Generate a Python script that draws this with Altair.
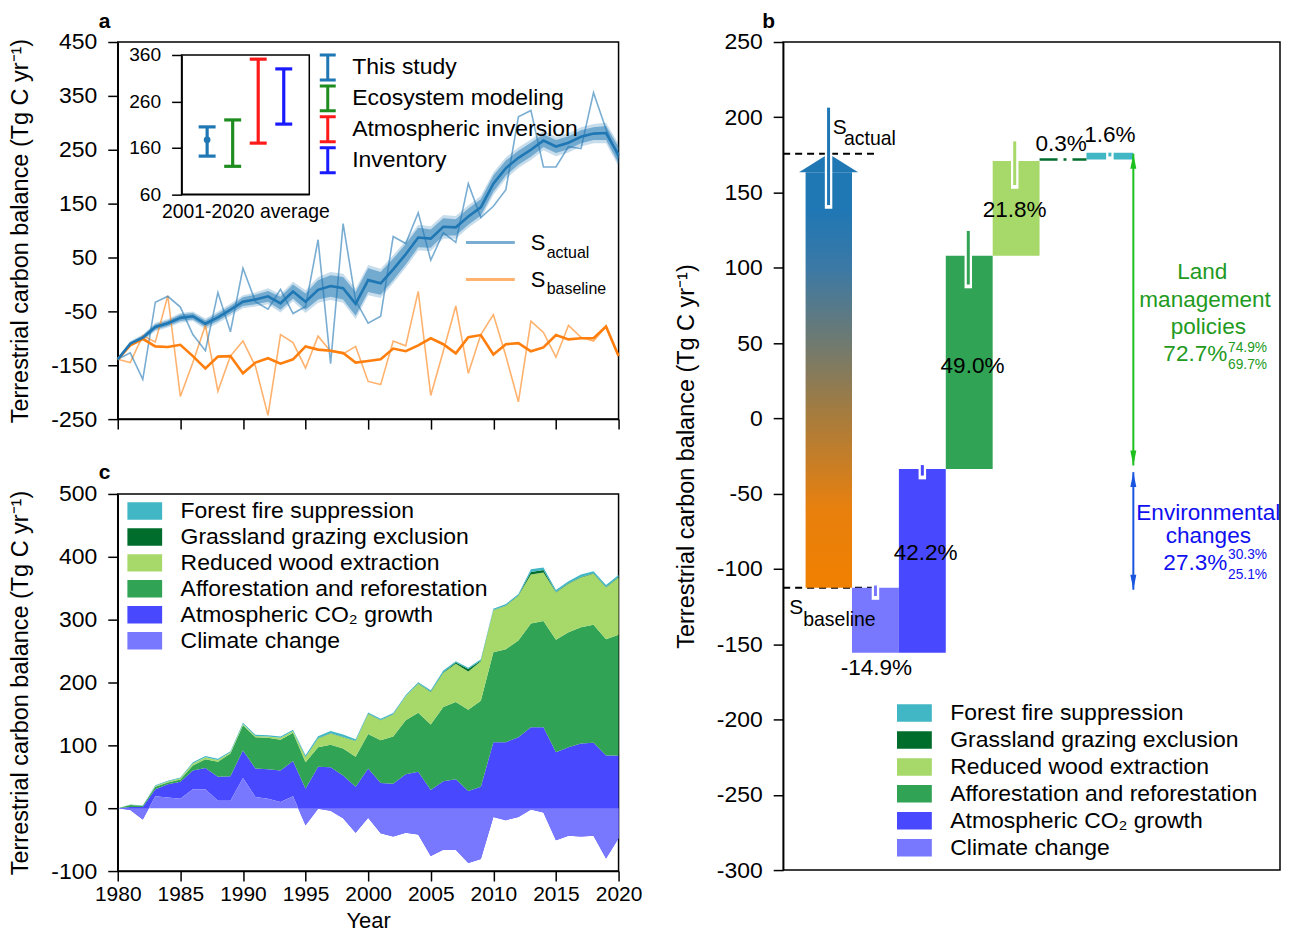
import altair as alt
import pandas as pd

FONT = "Liberation Sans"
BLUE = "#1f77b4"
ORANGE = "#ff7f0e"
YT = "Terrestrial carbon balance (Tg C yr⁻¹)"
MINUS = "replace(datum.label, '\u2212', '-')"

# ---------------- data: panel a ----------------
years = list(range(1980, 2021))
sa_smooth = [-139, -110, -99, -79, -72, -62, -59, -73, -61, -47,
             -32, -28, -22, -35, -13, -32, -10, -3, -7, -36,
             8, 2, 28, 56, 87, 85, 107, 106, 126, 143,
             187, 216, 235, 250, 267, 256, 263, 274, 280, 281, 240]
sa_raw = [-139, -127, -176, -33, -22, -42, -93, -123, -15, -88,
          30, -32, -46, -9, -54, -41, 83, -147, 113, -30,
          -72, -59, 89, 76, 133, 45, 96, 78, 187, 124,
          145, 176, 311, 323, 218, 218, 256, 252, 356, 288, 235]
sa_inner = [2, 3, 4, 5, 5, 6, 6, 6, 7, 7, 8, 9, 10, 12, 13, 15, 18, 20, 21, 22,
            22, 21, 20, 19, 18, 17, 16, 15, 15, 15, 15, 14, 13, 13, 12, 12, 12, 12, 12, 13, 15]
sa_outer = [3, 5, 6, 8, 8, 9, 9, 10, 11, 11, 12, 13, 15, 17, 18, 21, 24, 26, 27, 28,
            28, 27, 26, 25, 24, 23, 22, 21, 21, 21, 21, 20, 19, 19, 18, 18, 18, 18, 18, 19, 21]
sb_smooth = [-139, -113, -101, -115, -116, -112, -133, -156, -134, -133,
             -165, -145, -137, -147, -139, -115, -121, -123, -127, -145,
             -142, -139, -119, -124, -113, -100, -111, -128, -98, -94,
             -130, -111, -109, -124, -117, -94, -102, -100, -100, -78, -133]
sb_raw = [-139, -145, -95, -107, -21, -208, -145, -76, -198, -133,
          -105, -152, -243, -93, -108, -155, -96, -124, -129, -115,
          -180, -186, -105, -114, -13, -206, -124, -40, -165, -93,
          -56, -133, -218, -68, -89, -135, -76, -98, -105, -78, -133]

methods = ["This study", "Ecosystem modeling", "Atmospheric inversion", "Inventory"]
method_colors = ["#1f77b4", "#1e8c1e", "#ff1a1a", "#1a1aff"]
method_pos = [1, 2, 3, 4]
method_low = [142, 120, 170, 211]
method_high = [205, 220, 351, 330]
this_study_mean = [177]

# ---------------- data: panel c ----------------
components = ["Forest fire suppression", "Grassland grazing exclusion", "Reduced wood extraction",
              "Afforestation and reforestation", "Atmospheric CO₂ growth", "Climate change"]
comp_colors = ["#41b6c4", "#006d2c", "#a6d96a", "#31a354", "#4848ff", "#7878ff"]
climate = [0, -3, -18, 19, 17, 15, 30, 30, 12, 12, 48, 18, 15, 10, 19, -27, -1, -4, -16, -39,
           -15, -40, -45, -39, -42, -76, -66, -66, -87, -81, -14, -19, -14, -2, -7, -51, -44, -45, -44, -80, -48]
co2 = [0, 5, 20, 11, 21, 27, 30, 34, 38, 39, 44, 45, 47, 50, 56, 58, 67, 69, 68, 73,
       78, 80, 84, 93, 100, 105, 109, 112, 114.5, 115, 119, 124, 127, 131, 136, 140, 141, 148, 148, 164, 132]
aff = [0, 3, 2, 4, 3, 3.5, 8, 14, 24, 36, 40, 50, 50, 49, 45, 42, 31, 36, 43, 48,
       55, 68, 75, 86, 94, 104, 118, 123, 129, 137, 143, 148, 154, 165, 169, 179, 183, 185, 188, 185, 192]
wood = [0, 0.5, 0, 1.5, 1.5, 2, 3, 3, 2.5, 2, 2, 2, 2, 3, 3, 8, 14, 18, 18, 25,
        32, 32, 35, 38, 46, 52, 54, 61, 61, 63, 67, 69, 71, 78, 77, 75, 77, 79, 81, 82, 91]
grass = [0, 0, 0, 0, 0, 0, 0, 0, 0, 0, 0, 0, 0, 0, 0, 0.3, 0.3, 0.3, 0.3, 0.3,
         0.3, 0.3, 0.3, 0.3, 0.5, 0.5, 1, 2, 4, 1, 0.5, 0.5, 1, 4, 4, 1, 1, 1, 1, 1, 1]
fire = [0, 0.3, 0.5, 1, 1, 1.5, 2, 2, 2, 1.5, 2, 2, 2, 2, 2, 3, 3, 3.5, 4, 2.5,
        2, 2, 2, 2, 2, 2, 3, 2, 2, 2, 2, 2.5, 2, 4, 4, 3, 3, 4, 3, 3, 3]

# ---------------- data: panel b ----------------
b_baseline = -112.5
b_actual = 175.8
b_names = ["Climate change", "Atmospheric CO₂ growth", "Afforestation and reforestation",
           "Reduced wood extraction", "Grassland grazing exclusion", "Forest fire suppression"]
b_contrib = [-43.1, 122.0, 141.6, 63.0, 0.9, 4.6]
b_pct = ["-14.9%", "42.2%", "49.0%", "21.8%", "0.3%", "1.6%"]
b_pct_x = [1.02, 2.07, 3.07, 3.97, 4.96, 6.0]
b_pct_y = [-166, -89.4, 34.7, 138.4, 182.2, 188]
b_err_x = [1.0, 2.0, 2.98, 3.97, 6.0]
b_err_lo = [-118, -38, 88.9, 155, 174]
b_err_hi = [-111, -31, 124.5, 184, 176.5]
b_err_comp = ["Climate change", "Atmospheric CO₂ growth", "Afforestation and reforestation",
              "Reduced wood extraction", "Forest fire suppression"]
s_err = [141.7, 206.4]
land_pct = ["72.7%", "74.9%", "69.7%"]
env_pct = ["27.3%", "30.3%", "25.1%"]

RECT = "M-1,-0.5H1V0.5H-1Z"
IBAR = "M-0.64,-1H0.64M0,-1V1M-0.64,1H0.64"
UP = "M0,-1L0.4,1L-0.4,1Z"
DOWN = "M0,1L0.4,-1L-0.4,-1Z"

# ======================= PANEL A =======================
WA, HA = 502, 378
da = pd.DataFrame({"year": years, "sa": sa_smooth, "sa_raw": sa_raw, "sb": sb_smooth, "sb_raw": sb_raw,
                   "inner": sa_inner, "outer": sa_outer})
da["in_lo"] = da.sa - da.inner
da["in_hi"] = da.sa + da.inner
da["out_lo"] = da.sa - da.outer
da["out_hi"] = da.sa + da.outer

xa_scale = alt.Scale(domain=[1980, 2020], nice=False, zero=False)
ya_scale = alt.Scale(domain=[-250, 450], nice=False, zero=False)


def XA(f):
    return alt.X(f + ":Q", scale=xa_scale,
                 axis=alt.Axis(values=list(range(1980, 2021, 5)), labels=False, title=None))


def YA(f):
    return alt.Y(f + ":Q", scale=ya_scale,
                 axis=alt.Axis(values=list(range(-250, 451, 100)), title=YT, labelExpr=MINUS))


ca = alt.Chart(da)
a_outer = ca.mark_area(color=BLUE, opacity=0.25).encode(x=XA("year"), y=YA("out_lo"), y2="out_hi:Q")
a_inner = ca.mark_area(color=BLUE, opacity=0.5).encode(x=XA("year"), y=YA("in_lo"), y2="in_hi:Q")
a_sb_raw = ca.mark_line(color=ORANGE, strokeWidth=1.6, opacity=0.6).encode(x=XA("year"), y=YA("sb_raw"))
a_sa_raw = ca.mark_line(color=BLUE, strokeWidth=1.6, opacity=0.6).encode(x=XA("year"), y=YA("sa_raw"))
a_sb = ca.mark_line(color=ORANGE, strokeWidth=2.6).encode(x=XA("year"), y=YA("sb"))
a_sa = ca.mark_line(color=BLUE, strokeWidth=2.6).encode(x=XA("year"), y=YA("sa"))

one = pd.DataFrame({"k": [0]})


def ptxt(text, x, y, size, bold=False, align="left"):
    return alt.Chart(one).mark_text(text=text, align=align, baseline="middle", fontSize=size, font=FONT,
                                    fontWeight="bold" if bold else "normal", color="black").encode(
        x=alt.value(x), y=alt.value(y))


leg1 = alt.Chart(one).mark_rule(color=BLUE, strokeWidth=3, opacity=0.6).encode(
    x=alt.value(349), x2=alt.value(398), y=alt.value(201))
leg2 = alt.Chart(one).mark_rule(color=ORANGE, strokeWidth=3, opacity=0.6).encode(
    x=alt.value(349), x2=alt.value(398), y=alt.value(238))
leg_t = [ptxt("S", 414, 201, 22), ptxt("actual", 430, 211, 16),
         ptxt("S", 414, 239, 22), ptxt("baseline", 430, 248, 16)]
letter_a = ptxt("a", -19, -20.5, 21, bold=True)

main_a = alt.layer(a_outer, a_inner, a_sb_raw, a_sa_raw, a_sb, a_sa, leg1, leg2, *leg_t, letter_a)

# inset
xi_scale = alt.Scale(domain=[0, 5], range=[64, 192], nice=False, zero=False)
yi_scale = alt.Scale(domain=[60, 360], range=[152.5, 13], nice=False, zero=False)


def XI(f):
    return alt.X(f + ":Q", scale=xi_scale,
                 axis=alt.Axis(orient="bottom", offset=-225.5, ticks=False, labels=False,
                               title="2001-2020 average", titleFontSize=19.4, titlePadding=8))


def YI(f):
    return alt.Y(f + ":Q", scale=yi_scale,
                 axis=alt.Axis(orient="left", offset=-64, values=[60, 160, 260, 360], title=None,
                               labelFontSize=19.2, tickSize=10, labelPadding=11))


COLOR_M = alt.Color("method:N", scale=alt.Scale(domain=methods, range=method_colors),
                    legend=alt.Legend(orient="none", legendX=196.5, legendY=10.2, title=None,
                                      symbolType=IBAR, symbolSize=625, symbolStrokeWidth=3,
                                      symbolOpacity=1, clipHeight=30.6,
                                      labelFontSize=23, labelOffset=10.5, rowPadding=0, padding=0,
                                      labelLimit=500))
dm = pd.DataFrame({"method": methods, "pos": method_pos, "lo": method_low, "hi": method_high})
frame = alt.Chart(pd.DataFrame({"x0": [0], "x1": [5], "y0": [60], "y1": [360]})).mark_rect(
    fillOpacity=0, stroke="black", strokeWidth=1.5).encode(x=XI("x0"), x2="x1:Q", y=YI("y0"), y2="y1:Q")
i_rule = alt.Chart(dm).mark_rule(strokeWidth=3.2, opacity=1).encode(
    x=XI("pos"), y=YI("lo"), y2="hi:Q", color=COLOR_M)
i_cap1 = alt.Chart(dm).mark_tick(orient="horizontal", size=17, thickness=3.2, opacity=1).encode(
    x=XI("pos"), y=YI("lo"), color=COLOR_M)
i_cap2 = alt.Chart(dm).mark_tick(orient="horizontal", size=17, thickness=3.2, opacity=1).encode(
    x=XI("pos"), y=YI("hi"), color=COLOR_M)
i_pt = alt.Chart(pd.DataFrame({"pos": [1], "m": this_study_mean})).mark_point(
    filled=True, size=45, color=BLUE, opacity=1).encode(x=XI("pos"), y=YI("m"))
inset_a = alt.layer(frame, i_rule, i_cap1, i_cap2, i_pt)

panel_a = alt.layer(main_a, inset_a).resolve_scale(x="independent", y="independent").properties(
    width=WA, height=HA)

# ======================= PANEL C =======================
# cumulative stacking in the order climate -> CO2 -> afforestation -> wood -> grazing -> fire;
# the climate band (0 .. climate) is drawn last, on top.
rows = []
series = [("Climate change", climate), ("Atmospheric CO₂ growth", co2),
          ("Afforestation and reforestation", aff), ("Reduced wood extraction", wood),
          ("Grassland grazing exclusion", grass), ("Forest fire suppression", fire)]
for k, yv in enumerate(years):
    cum = 0.0
    for name, vals in series:
        v = vals[k]
        rows.append({"year": yv, "component": name, "y0": cum, "y1": cum + v})
        cum += v
dc = pd.DataFrame(rows)

COLOR_C = alt.Color("component:N", scale=alt.Scale(domain=components, range=comp_colors),
                    legend=alt.Legend(orient="none", legendX=9.5, legendY=4.3, title=None,
                                      symbolType=RECT, symbolSize=1225, symbolStrokeWidth=0,
                                      symbolOpacity=1, clipHeight=25.6,
                                      labelFontSize=23, labelOffset=18.5, rowPadding=0, padding=0,
                                      labelLimit=500))
XC = alt.X("year:Q", scale=xa_scale,
           axis=alt.Axis(values=list(range(1980, 2021, 5)), format="d", title="Year", titlePadding=6,
                         labelFontSize=21, labelPadding=3, titleFontSize=22))


def YC(f):
    return alt.Y(f + ":Q", stack=False, scale=alt.Scale(domain=[-100, 500], nice=False, zero=False),
                 axis=alt.Axis(values=list(range(-100, 501, 100)), title=YT, labelExpr=MINUS))


area_rest = alt.Chart(dc[dc.component != "Climate change"]).mark_area(opacity=1).encode(
    x=XC, y=YC("y1"), y2="y0:Q", color=COLOR_C, detail="component:N")
area_clim = alt.Chart(dc[dc.component == "Climate change"]).mark_area(opacity=1).encode(
    x=XC, y=YC("y1"), y2="y0:Q", color=COLOR_C)
letter_c = ptxt("c", -19, -20.5, 21, bold=True)
panel_c = alt.layer(area_rest, area_clim, letter_c).properties(width=WA, height=HA)

left = alt.vconcat(panel_a, panel_c, spacing=29).resolve_scale(color="independent")

# ======================= PANEL B =======================
WB, HB = 498, 830
xb_scale = alt.Scale(domain=[-0.968, 9.628], nice=False, zero=False)
yb_scale = alt.Scale(domain=[-300, 250], nice=False, zero=False)


def XB(f):
    return alt.X(f + ":Q", scale=xb_scale, axis=None)


def YB(f):
    return alt.Y(f + ":Q", scale=yb_scale,
                 axis=alt.Axis(values=list(range(-300, 251, 50)), title=YT, labelExpr=MINUS))


bars = []
cur = b_baseline
for i, (n, c) in enumerate(zip(b_names, b_contrib)):
    bars.append({"component": n, "x0": i + 0.5, "x1": i + 1.5, "bot": cur, "top": cur + c})
    cur += c
dbars = pd.DataFrame(bars)

dash = alt.Chart(pd.DataFrame({"x0": [-0.968, -0.968], "x1": [1.01, 0.97],
                               "y": [b_actual, b_baseline]})).mark_rule(
    color="black", strokeWidth=2, strokeDash=[7, 5]).encode(x=XB("x0"), x2="x1:Q", y=YB("y"))

grad = alt.Gradient(gradient="linear", x1=0, x2=0, y1=1, y2=0,
                    stops=[alt.GradientStop(offset=0, color="#f08000"),
                           alt.GradientStop(offset=0.19, color="#e8800e"),
                           alt.GradientStop(offset=0.41, color="#a87c3c"),
                           alt.GradientStop(offset=0.59, color="#6f7a70"),
                           alt.GradientStop(offset=0.77, color="#3b79a6"),
                           alt.GradientStop(offset=0.91, color="#1f77b4"),
                           alt.GradientStop(offset=1, color="#1f77b4")])
s_body = alt.Chart(pd.DataFrame({"x0": [-0.49], "x1": [0.5], "y0": [b_baseline], "y1": [163.5]})).mark_rect(
    color=grad).encode(x=XB("x0"), x2="x1:Q", y=YB("y0"), y2="y1:Q")
s_head = alt.Chart(pd.DataFrame({"x": [-0.63, 0, 0.63], "y": [163.5, b_actual, 163.5],
                                 "y2": [163.5, 163.5, 163.5]})).mark_area(
    color=BLUE).encode(x=XB("x"), y=YB("y"), y2="y2:Q")

bar_rows = dbars[dbars.component != "Grassland grazing exclusion"]
b_bars = alt.Chart(bar_rows).mark_rect(opacity=1).encode(
    x=XB("x0"), x2="x1:Q", y=YB("bot"), y2="top:Q",
    color=alt.Color("component:N", scale=alt.Scale(domain=components, range=comp_colors),
                    legend=alt.Legend(orient="none", legendX=114, legendY=659.5, title=None,
                                      symbolType=RECT, symbolSize=1225, symbolStrokeWidth=0,
                                      symbolOpacity=1, clipHeight=26.2,
                                      labelFontSize=23, labelOffset=18.5, rowPadding=0, padding=0,
                                      labelLimit=500)))
g = dbars[dbars.component == "Grassland grazing exclusion"]
b_grass = alt.Chart(g).mark_rule(color="#006d2c", strokeWidth=2.5, strokeDash=[18, 6, 3, 6]).encode(
    x=XB("x0"), x2="x1:Q", y=YB("top"))

err_rows = [{"x": 0.0, "lo": s_err[0], "hi": s_err[1], "col": BLUE}]
for xx, lo, hi, cn in zip(b_err_x, b_err_lo, b_err_hi, b_err_comp):
    err_rows.append({"x": xx, "lo": lo, "hi": hi, "col": comp_colors[components.index(cn)]})
derr = pd.DataFrame(err_rows)
e_white = alt.Chart(derr).mark_rule(color="white", strokeWidth=7.5, strokeCap="square").encode(
    x=XB("x"), y=YB("lo"), y2="hi:Q")
e_col = alt.Chart(derr).mark_rule(strokeWidth=3).encode(
    x=XB("x"), y=YB("lo"), y2="hi:Q", color=alt.Color("col:N", scale=None))

darrow = pd.DataFrame({"x": [6.5, 6.5], "y": [b_actual, -35.7], "y2": [-31.3, -113.8],
                       "col": ["#1ec01e", "#1a55e0"]})
arr_line = alt.Chart(darrow).mark_rule(strokeWidth=2).encode(
    x=XB("x"), y=YB("y"), y2="y2:Q", color=alt.Color("col:N", scale=None))
arr_up = alt.Chart(darrow).mark_point(shape=UP, size=225, filled=True, opacity=1, yOffset=7.5).encode(
    x=XB("x"), y=YB("y"), color=alt.Color("col:N", scale=None))
arr_dn = alt.Chart(darrow).mark_point(shape=DOWN, size=225, filled=True, opacity=1, yOffset=-7.5).encode(
    x=XB("x"), y=YB("y2"), color=alt.Color("col:N", scale=None))


def txt(rows_, align, size, color):
    return alt.Chart(pd.DataFrame(rows_)).mark_text(align=align, baseline="middle", fontSize=size,
                                                     color=color, font=FONT).encode(
        x=XB("x"), y=YB("y"), text="t:N")


pct_rows = [{"x": xx, "y": yy, "t": t} for xx, yy, t in zip(b_pct_x, b_pct_y, b_pct)]
t_pct = txt(pct_rows, "center", 22.6, "black")
t_S = txt([{"x": 0.09, "y": 192.6, "t": "S"}, {"x": -0.84, "y": -125.7, "t": "S"}], "left", 21, "black")
t_sub = txt([{"x": 0.33, "y": 185.5, "t": "actual"}, {"x": -0.54, "y": -133.6, "t": "baseline"}],
            "left", 19.5, "black")
GREEN_T = "#229a22"
BLUE_T = "#1010ef"
t_land = txt([{"x": 7.97, "y": 97, "t": "Land"}, {"x": 8.03, "y": 78.3, "t": "management"},
              {"x": 8.1, "y": 60.5, "t": "policies"}], "center", 22.6, GREEN_T)
t_land_p = txt([{"x": 7.14, "y": 42.7, "t": land_pct[0]}], "left", 22.6, GREEN_T)
t_land_s = txt([{"x": 8.52, "y": 46.8, "t": land_pct[1]}, {"x": 8.52, "y": 35.4, "t": land_pct[2]}],
               "left", 13.8, GREEN_T)
t_env = txt([{"x": 8.1, "y": -62.8, "t": "Environmental"}, {"x": 8.1, "y": -77.8, "t": "changes"}],
            "center", 22.6, BLUE_T)
t_env_p = txt([{"x": 7.14, "y": -96.2, "t": env_pct[0]}], "left", 22.6, BLUE_T)
t_env_s = txt([{"x": 8.52, "y": -90.7, "t": env_pct[1]}, {"x": 8.52, "y": -103.9, "t": env_pct[2]}],
              "left", 13.8, BLUE_T)
letter_b = ptxt("b", -21, -20.5, 21, bold=True)

panel_b = alt.layer(dash, s_body, s_head, b_bars, b_grass, e_white, e_col, arr_line, arr_up, arr_dn,
                    t_pct, t_S, t_sub, t_land, t_land_p, t_land_s, t_env, t_env_p, t_env_s,
                    letter_b).properties(width=WB, height=HB)

chart = alt.hconcat(left, panel_b, spacing=30).resolve_scale(color="independent").properties(
    padding={"left": 0, "top": 0, "right": 0, "bottom": 0}
).configure_view(stroke="black", strokeWidth=1.5).configure_axis(
    labelFont=FONT, titleFont=FONT, labelFontSize=23, titleFontSize=23.5, titleFontWeight="normal",
    labelColor="black", titleColor="black", tickColor="black", domainColor="black",
    tickWidth=1.5, domainWidth=1.5, tickSize=10, labelPadding=11, titlePadding=18, grid=False,
    labelFlush=False, labelOverlap=False
).configure_legend(labelFont=FONT, labelColor="black").configure_text(font=FONT)

chart.save("out.html", embed_options={"renderer": "svg", "actions": False})
